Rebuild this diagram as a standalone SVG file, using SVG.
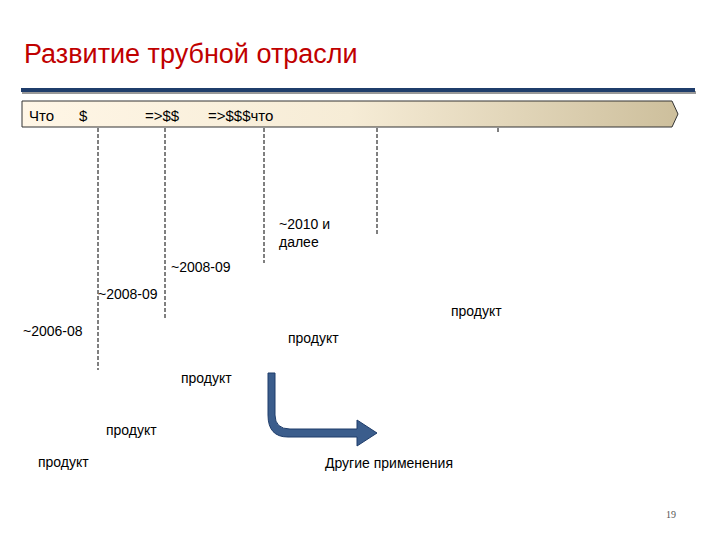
<svg xmlns="http://www.w3.org/2000/svg" width="720" height="540" viewBox="0 0 720 540">
<defs>
<linearGradient id="g" x1="0" x2="1" y1="0" y2="0">
<stop offset="0" stop-color="#fff6e6"/><stop offset="0.5" stop-color="#f6ecd6"/><stop offset="1" stop-color="#cdbf9c"/>
</linearGradient>
<style>
text{font-family:"Liberation Sans",Arial,sans-serif;fill:#000}
.t{font-size:14px}
.h{font-size:15px}
.d{stroke:#000;stroke-width:1;stroke-dasharray:4,2;fill:none}
</style>
</defs>
<rect width="720" height="540" fill="#fff"/>
<text x="24" y="63" style="font-size:27px;fill:#c00000">Развитие трубной отрасли</text>
<rect x="22" y="91" width="674" height="3" fill="#999"/>
<rect x="21" y="88" width="674" height="4" fill="#1f3d6b"/>
<g id="bar">
<polygon points="22,101 672,101 678,114 672,127 22,127" fill="url(#g)" stroke="#333" stroke-width="1"/>
<text x="29" y="121" class="h">Что</text>
<text x="79" y="121" class="h">$</text>
<text x="145" y="121" class="h">=&gt;$$</text>
<text x="208" y="121" class="h">=&gt;$$$что</text>
</g>
<g id="connectors">
<line class="d" x1="98" y1="128" x2="98" y2="370"/>
<line class="d" x1="165" y1="128" x2="165" y2="320"/>
<line class="d" x1="264" y1="128" x2="264" y2="263"/>
<line class="d" x1="377" y1="128" x2="377" y2="235"/>
<line class="d" x1="498" y1="128" x2="498" y2="134"/>
</g>
<g id="labels">
<text x="279" y="229" class="t">~2010 и</text>
<text x="279" y="247" class="t">далее</text>
<text x="171" y="272" class="t">~2008-09</text>
<text x="98" y="299" class="t">~2008-09</text>
<text x="23" y="336" class="t">~2006-08</text>
<text x="451" y="316" class="t">продукт</text>
<text x="288" y="343" class="t">продукт</text>
<text x="181" y="383" class="t">продукт</text>
<text x="106" y="435" class="t">продукт</text>
<text x="38" y="467" class="t">продукт</text>
<text x="325" y="468" class="t">Другие применения</text>
</g>
<g id="bend">
<path d="M268,373 H275 V415 Q275,429 290,429 H357 V420 L377,433 L357,446 V437 H288 Q268,437 268,415 Z" fill="#3b5d8c" stroke="#1f3d6b" stroke-width="1"/>
</g>
<text x="666" y="518" style="font-size:10px;font-family:'Liberation Serif',serif;fill:#555">19</text>
</svg>
